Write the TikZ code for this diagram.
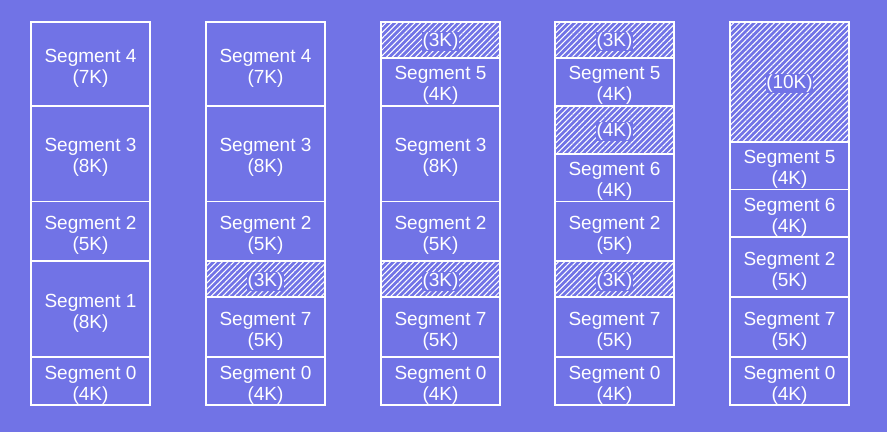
\documentclass[tikz,border=0pt]{standalone}
\usepackage{fontspec}
\setmainfont{Liberation Sans}
\usetikzlibrary{patterns.meta}
\definecolor{bg}{RGB}{113,115,230}
\tikzset{
  box/.style={draw=white, line width=1.9pt, minimum width=119pt, inner sep=0pt, outer sep=0pt,
    anchor=south west},
  lbl/.style={align=center, text=white, font=\fontsize{19}{21}\selectfont, inner sep=0pt, yshift=-4pt},
  hole/.style={box, pattern={Lines[angle=45,distance=4.1pt,line width=1.05pt]}, pattern color=white},
  holelbl/.style={fill=bg, inner sep=0.6pt, text=white, font=\fontsize{19}{21}\selectfont, yshift=-2pt},
  segtext/.style={label={[lbl]center:{#1}}},
  holetext/.style={label={[holelbl]center:{#1}}}
}
\newcommand{\kk}{11.97}
\begin{document}
\begin{tikzpicture}[x=1pt,y=-1pt]
\fill[bg] (0,0) rectangle (887,432);
\useasboundingbox (0,0) rectangle (887,432);
% Column 1
\node[box, minimum height=4*\kk pt, segtext={Segment 0\\(4K)}] (a0) at (31,{405}) {};
\node[box, minimum height=8*\kk pt, segtext={Segment 1\\(8K)}] (a1) at (31,{405-4*\kk}) {};
\node[box, minimum height=5*\kk pt, segtext={Segment 2\\(5K)}] (a2) at (31,{405-12*\kk}) {};
\node[box, minimum height=8*\kk pt, segtext={Segment 3\\(8K)}] (a3) at (31,{405-17*\kk}) {};
\node[box, minimum height=7*\kk pt, segtext={Segment 4\\(7K)}] (a4) at (31,{405-25*\kk}) {};
% Column 2
\node[box, minimum height=4*\kk pt, segtext={Segment 0\\(4K)}] (b0) at (206,{405}) {};
\node[box, minimum height=5*\kk pt, segtext={Segment 7\\(5K)}] (b7) at (206,{405-4*\kk}) {};
\node[hole, minimum height=3*\kk pt, holetext={(3K)}] (bh1) at (206,{405-9*\kk}) {};
\node[box, minimum height=5*\kk pt, segtext={Segment 2\\(5K)}] (b2) at (206,{405-12*\kk}) {};
\node[box, minimum height=8*\kk pt, segtext={Segment 3\\(8K)}] (b3) at (206,{405-17*\kk}) {};
\node[box, minimum height=7*\kk pt, segtext={Segment 4\\(7K)}] (b4) at (206,{405-25*\kk}) {};
% Column 3
\node[box, minimum height=4*\kk pt, segtext={Segment 0\\(4K)}] (c0) at (381,{405}) {};
\node[box, minimum height=5*\kk pt, segtext={Segment 7\\(5K)}] (c7) at (381,{405-4*\kk}) {};
\node[hole, minimum height=3*\kk pt, holetext={(3K)}] (ch1) at (381,{405-9*\kk}) {};
\node[box, minimum height=5*\kk pt, segtext={Segment 2\\(5K)}] (c2) at (381,{405-12*\kk}) {};
\node[box, minimum height=8*\kk pt, segtext={Segment 3\\(8K)}] (c3) at (381,{405-17*\kk}) {};
\node[box, minimum height=4*\kk pt, segtext={Segment 5\\(4K)}] (c5) at (381,{405-25*\kk}) {};
\node[hole, minimum height=3*\kk pt, holetext={(3K)}] (ch2) at (381,{405-29*\kk}) {};
% Column 4
\node[box, minimum height=4*\kk pt, segtext={Segment 0\\(4K)}] (d0) at (555,{405}) {};
\node[box, minimum height=5*\kk pt, segtext={Segment 7\\(5K)}] (d7) at (555,{405-4*\kk}) {};
\node[hole, minimum height=3*\kk pt, holetext={(3K)}] (dh1) at (555,{405-9*\kk}) {};
\node[box, minimum height=5*\kk pt, segtext={Segment 2\\(5K)}] (d2) at (555,{405-12*\kk}) {};
\node[box, minimum height=4*\kk pt, segtext={Segment 6\\(4K)}] (d6) at (555,{405-17*\kk}) {};
\node[hole, minimum height=4*\kk pt, holetext={(4K)}] (dh2) at (555,{405-21*\kk}) {};
\node[box, minimum height=4*\kk pt, segtext={Segment 5\\(4K)}] (d5) at (555,{405-25*\kk}) {};
\node[hole, minimum height=3*\kk pt, holetext={(3K)}] (dh3) at (555,{405-29*\kk}) {};
% Column 5
\node[box, minimum height=4*\kk pt, segtext={Segment 0\\(4K)}] (e0) at (730,{405}) {};
\node[box, minimum height=5*\kk pt, segtext={Segment 7\\(5K)}] (e7) at (730,{405-4*\kk}) {};
\node[box, minimum height=5*\kk pt, segtext={Segment 2\\(5K)}] (e2) at (730,{405-9*\kk}) {};
\node[box, minimum height=4*\kk pt, segtext={Segment 6\\(4K)}] (e6) at (730,{405-14*\kk}) {};
\node[box, minimum height=4*\kk pt, segtext={Segment 5\\(4K)}] (e5) at (730,{405-18*\kk}) {};
\node[hole, minimum height=10*\kk pt, holetext={(10K)}] (eh) at (730,{405-22*\kk}) {};
\end{tikzpicture}
\end{document}
